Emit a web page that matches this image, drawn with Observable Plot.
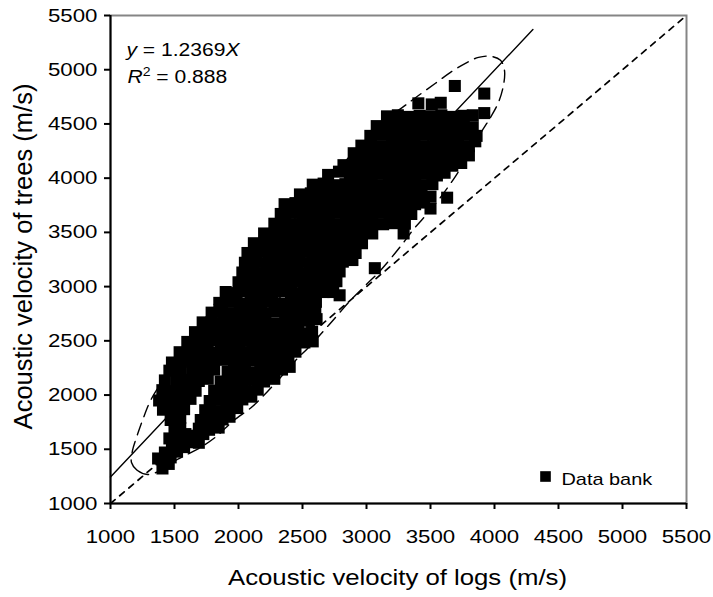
<!DOCTYPE html>
<html><head><meta charset="utf-8">
<script src="https://cdn.jsdelivr.net/npm/d3@7"></script>
<script src="https://cdn.jsdelivr.net/npm/@observablehq/plot@0.6"></script>
<style>
body{margin:0;background:#fff;}
#chart{width:713px;height:597px;}
svg{display:block;}
</style></head><body><div id="chart"></div>
<script>
// ---- axis ticks ----
const xTicks = [1000,1500,2000,2500,3000,3500,4000,4500,5000,5500];
const yTicks = [1000,1500,2000,2500,3000,3500,4000,4500,5000,5500];

// ---- labels ----
const xTitle = "Acoustic velocity of logs (m/s)";
const yTitle = "Acoustic velocity of trees (m/s)";
const eqLabel = "y = 1.2369X";
const r2Label = "R2 = 0.888";
const legendLabel = "Data bank";

// ---- data bank points: [log velocity, tree velocity] ----
const bandLowerLeft = [
[1406,1323],[1455,1365],[1372,1415],[1470,1425],[1425,1470],[1520,1478],[1480,1530],[1575,1520],
[1535,1585],[1625,1565],[1690,1560],[1460,1600],[1585,1640],[1665,1625],[1500,1665],[1545,1695],[1725,1640]
];
const bandLower = [
[1690,1690],[1770,1680],[1845,1700],
[1705,1770],[1790,1760],[1875,1775],[1930,1800],
[1740,1860],[1825,1850],[1905,1865],[1990,1880],
[1775,1945],[1860,1955],[1945,1940],[2030,1960],[2100,1985],
[1810,2040],[1895,2030],[1980,2045],[2065,2035],[2150,2050],
[1860,2125],[1945,2135],[2030,2120],[2115,2140],[2200,2125],[2280,2150],
[1915,2215],[2000,2225],[2085,2210],[2170,2230],[2255,2215],[2340,2235],[2400,2260]
];
const bandUpper = [
[1470,1770],[1545,1790],
[1410,1865],[1495,1855],[1575,1870],
[1380,1950],[1460,1960],[1545,1945],[1625,1965],
[1405,2045],[1490,2035],[1580,2050],[1665,2040],
[1425,2135],[1515,2125],[1600,2140],[1690,2130],[1760,2150],
[1460,2225],[1550,2215],[1640,2230],[1725,2220],[1810,2235]
];
const cloudMiddle = [
[1480,2300],[1560,2320],[1640,2305],[1720,2315],[1800,2300],[1880,2325],[1965,2310],[2050,2300],[2135,2320],[2220,2305],[2305,2315],[2390,2300],
[1540,2395],[1620,2410],[1700,2400],[1780,2390],[1860,2405],[1940,2415],[2025,2395],[2110,2400],[2195,2410],[2280,2390],[2365,2405],[2445,2400],
[1600,2490],[1680,2480],[1760,2495],[1840,2505],[1920,2485],[2005,2490],[2090,2500],[2175,2480],[2260,2495],[2345,2490],[2430,2505],[2515,2485],[2580,2495],
[1660,2580],[1740,2590],[1820,2575],[1900,2585],[1980,2570],[2065,2590],[2150,2580],[2235,2575],[2320,2590],[2405,2580],[2490,2570],[2575,2585],
[1720,2670],[1800,2660],[1880,2680],[1960,2670],[2040,2665],[2125,2680],[2210,2670],[2295,2660],[2380,2675],[2465,2670],[2550,2685],[2610,2700],
[1790,2760],[1870,2770],[1950,2755],[2030,2765],[2110,2760],[2195,2750],[2280,2770],[2365,2760],[2450,2755],[2535,2770],[2600,2760],
[1850,2850],[1930,2860],[2010,2845],[2095,2855],[2180,2850],[2265,2860],[2350,2845],[2435,2855],[2520,2850],[2605,2860],[2790,2920]
];
const cloudUpper = [
[1900,2950],[1985,2940],[2070,2960],[2155,2950],[2240,2945],[2325,2960],[2410,2950],[2495,2940],[2580,2955],[2665,2950],[2740,2950],
[2000,3040],[2085,3050],[2170,3035],[2255,3045],[2340,3040],[2425,3050],[2510,3035],[2595,3045],[2680,3040],[2765,3050],
[2030,3130],[2115,3140],[2200,3125],[2285,3135],[2370,3130],[2455,3140],[2540,3125],[2625,3135],[2710,3130],[2790,3140],[3065,3170],
[2050,3220],[2135,3230],[2220,3215],[2305,3225],[2390,3220],[2475,3230],[2560,3215],[2645,3225],[2730,3220],[2815,3230],[2890,3245],
[2070,3310],[2155,3320],[2240,3305],[2325,3315],[2410,3310],[2495,3320],[2580,3305],[2665,3315],[2750,3310],[2835,3320],[2915,3310],
[2120,3400],[2205,3410],[2290,3395],[2375,3405],[2460,3400],[2545,3410],[2630,3395],[2715,3405],[2800,3400],[2885,3410],[2965,3400],
[2200,3490],[2285,3500],[2370,3485],[2455,3495],[2540,3490],[2625,3500],[2710,3485],[2795,3495],[2880,3490],[2965,3500],[3045,3490],[3290,3490],
[2280,3580],[2365,3590],[2450,3575],[2535,3585],[2620,3580],[2705,3590],[2790,3575],[2875,3585],[2960,3580],[3045,3590],[3130,3575],[3215,3585],[3300,3580],
[2330,3670],[2415,3680],[2500,3665],[2585,3675],[2670,3670],[2755,3680],[2840,3665],[2925,3675],[3010,3670],[3095,3680],[3180,3665],[3265,3675],[3350,3670],[3500,3720],
[2360,3760],[2445,3770],[2530,3755],[2615,3765],[2700,3760],[2785,3770],[2870,3755],[2955,3765],[3040,3760],[3125,3770],[3210,3755],[3295,3765],[3380,3760],[3450,3775],
[2480,3850],[2565,3860],[2650,3845],[2735,3855],[2820,3850],[2905,3860],[2990,3845],[3075,3855],[3160,3850],[3245,3860],[3330,3845],[3415,3855],[3500,3830],[3630,3820],
[2580,3940],[2665,3950],[2750,3935],[2835,3945],[2920,3940],[3005,3950],[3090,3935],[3175,3945],[3260,3940],[3345,3950],[3430,3935],[3515,3945],
[2700,4030],[2785,4060],[2870,4025],[2955,4035],[3040,4030],[3125,4040],[3210,4025],[3295,4035],[3380,4030],[3465,4040],[3550,4025],[3610,4050],
[2820,4120],[2905,4130],[2990,4115],[3075,4125],[3160,4120],[3245,4130],[3330,4115],[3415,4125],[3500,4120],[3585,4130],[3670,4115],[3740,4140],
[2900,4230],[2965,4210],[3050,4220],[3135,4205],[3220,4215],[3305,4210],[3390,4220],[3475,4205],[3560,4215],[3645,4210],[3730,4220],[3800,4210],
[2960,4300],[3035,4310],[3120,4295],[3205,4305],[3290,4300],[3375,4310],[3460,4295],[3545,4305],[3630,4300],[3715,4310],[3800,4295],[3850,4340],
[3030,4390],[3115,4400],[3200,4385],[3285,4395],[3370,4390],[3455,4400],[3540,4385],[3625,4395],[3710,4390],[3795,4400],[3860,4390],
[3080,4480],[3165,4490],[3250,4475],[3335,4485],[3420,4480],[3505,4490],[3590,4475],[3675,4485],[3760,4480],[3830,4470],
[3160,4570],[3245,4580],[3330,4565],[3415,4575],[3500,4570],[3585,4580],[3670,4565],[3755,4575],[3830,4580],[3920,4600],
[3405,4690],[3510,4680],[3580,4695],
[3690,4850],[3920,4780]
];

// ---- reference lines ----
const regLog = [1000, 4300];
const regTree = [1245, 5370];
const oneToOne = [1000, 5500];

// ---- dashed envelope ----
const envLog  = [1164,1211,1289,1391,1523,1703,1836,1953,2109,2227,2328,2430,2563,2703,2875,2992,3109,3266,3367,3477,3578,3695,3797,3891,3969,4031,4070,4078,4047,3969,3875,3773,3656,3539,3398,3281,3109,2930,2719,2484,2250,2016,1836,1648,1492,1391,1313,1258,1203,1172];
const envTree = [1378,1304,1268,1304,1406,1517,1627,1756,1895,2033,2162,2301,2458,2642,2873,3011,3149,3371,3528,3675,3823,4017,4210,4413,4561,4699,4856,4994,5087,5124,5114,5059,4976,4875,4755,4653,4515,4284,3998,3684,3380,3039,2873,2531,2319,2107,1950,1793,1609,1489];

const points = [...bandLowerLeft, ...bandLower, ...bandUpper, ...cloudMiddle, ...cloudUpper]
  .map(([log, tree]) => ({log, tree}));
const env = envLog.map((v, i) => ({log: v, tree: envTree[i]}));
const reg = regLog.map((v, i) => ({log: v, tree: regTree[i]}));
const ident = oneToOne.map(v => ({log: v, tree: v}));

const fmt = d => String(d);
const chart = Plot.plot({
  width: 713, height: 597,
  marginLeft: 110, marginRight: 27, marginTop: 15, marginBottom: 94,
  style: {fontFamily: "'Liberation Sans', Arial, sans-serif", fontSize: "19px", color: "#000", background: "#fff", overflow: "visible"},
  x: {domain: [1000, 5500]},
  y: {domain: [1000, 5500]},
  marks: [
    Plot.frame({stroke: "#858585", strokeWidth: 2}),
    Plot.line(ident, {x: "log", y: "tree", stroke: "#000", strokeWidth: 1.7, strokeDasharray: "6,6"}),
    Plot.line(env, {x: "log", y: "tree", curve: "catmull-rom-closed", stroke: "#000", strokeWidth: 1.4, strokeDasharray: "12,7"}),
    Plot.line(reg, {x: "log", y: "tree", stroke: "#000", strokeWidth: 1.4}),
    Plot.dot(points, {x: "log", y: "tree", symbol: "square", r: 6.8, fill: "#000", stroke: "none"}),
    Plot.ruleX([1000], {stroke: "#000", strokeWidth: 2}),
    Plot.ruleY([1000], {stroke: "#000", strokeWidth: 2}),
    Plot.axisX({ticks: xTicks, tickFormat: fmt, tickSize: 6, tickPadding: 20, strokeWidth: 2, label: null, fontSize: 19}),
    Plot.axisY({ticks: yTicks, tickFormat: fmt, tickSize: 6, tickPadding: 7, strokeWidth: 2, label: null, fontSize: 19}),
    Plot.text([xTitle], {frameAnchor: "bottom", dx: -1, dy: 66, lineAnchor: "top", fontSize: 22}),
    Plot.text([yTitle], {frameAnchor: "left", rotate: -90, dx: -87, dy: -3, lineAnchor: "middle", textAnchor: "middle", fontSize: 25.5}),
    Plot.text([eqLabel], {frameAnchor: "top-left", textAnchor: "start", lineAnchor: "top", dx: 16, dy: 28, fontSize: 18}),
    Plot.text([r2Label], {frameAnchor: "top-left", textAnchor: "start", lineAnchor: "top", dx: 17, dy: 55, fontSize: 18}),
    Plot.dot([legendLabel], {frameAnchor: "bottom-right", dx: -141, dy: -27, symbol: "square", r: 6, fill: "#000", stroke: "none"}),
    Plot.text([legendLabel], {frameAnchor: "bottom-right", textAnchor: "start", lineAnchor: "top", dx: -125, dy: -31, fontSize: 17})
  ]
});
document.getElementById("chart").appendChild(chart);

// rich text: italic variables and superscript
chart.querySelectorAll("text").forEach(t => {
  if (t.textContent === eqLabel) {
    t.textContent = "";
    const s = d3.select(t);
    s.append("tspan").attr("font-style", "italic").text("y");
    s.append("tspan").text(" = 1.2369");
    s.append("tspan").attr("font-style", "italic").text("X");
  } else if (t.textContent === r2Label) {
    t.textContent = "";
    const s = d3.select(t);
    s.append("tspan").attr("font-style", "italic").text("R");
    s.append("tspan").attr("baseline-shift", "super").attr("font-size", "12px").text("2");
    s.append("tspan").text(" = 0.888");
  }
});
// the original glyphs are drawn wider than Arial: stretch horizontal texts
chart.querySelectorAll("text").forEach(t => {
  if (t.textContent === yTitle) return;
  const L = t.getComputedTextLength();
  if (L > 0) {
    t.setAttribute("textLength", (L * 1.17).toFixed(1));
    t.setAttribute("lengthAdjust", "spacingAndGlyphs");
  }
});
</script></body></html>
